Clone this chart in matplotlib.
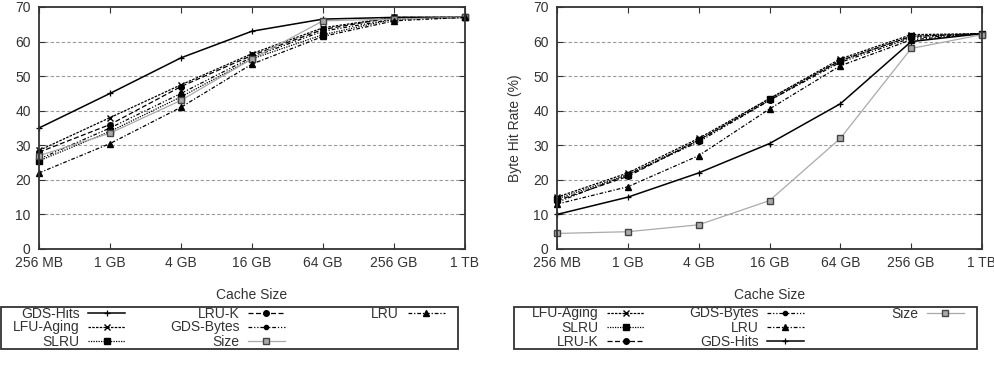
import matplotlib
matplotlib.use("Agg")
import matplotlib.pyplot as plt
from matplotlib.ticker import MultipleLocator
from matplotlib.lines import Line2D
from matplotlib.patches import Rectangle

plt.rcParams['font.family'] = ['Liberation Sans', 'DejaVu Sans']
plt.rcParams['font.size'] = 10

cache_sizes = ["256 MB", "1 GB", "4 GB", "16 GB", "64 GB", "256 GB", "1 TB"]

# Left panel: Hit Rate (%)
hit_gds_hits = [35, 45, 55.3, 63, 66.5, 67, 67]
hit_lfu_aging = [28.5, 38, 47.5, 56.5, 64, 67, 67]
hit_lru_k = [28, 36, 47, 56, 63.5, 67, 67]
hit_gds_bytes = [26, 35, 45, 55.5, 63, 66.5, 67]
hit_slru = [25.5, 34, 44, 55, 62, 66.5, 67]
hit_size = [27, 33.5, 43, 55, 66, 66.5, 67]
hit_lru = [22, 30.5, 41, 53.5, 61.5, 66, 67]

# Right panel: Byte Hit Rate (%)
bhr_lfu_aging = [15, 22, 32, 43.5, 55, 62, 62.3]
bhr_slru = [14.5, 21.5, 31.5, 43.5, 54.5, 61.5, 62.3]
bhr_lru_k = [14, 21, 31.5, 43, 54.5, 61.5, 62.3]
bhr_gds_bytes = [13.5, 21.5, 31, 43, 54, 61, 62.3]
bhr_lru = [13, 18, 27, 40.5, 53, 60.5, 62.3]
bhr_gds_hits = [10, 15, 22, 30.5, 42, 60, 62.3]
bhr_size = [4.5, 5, 7, 14, 32, 58, 62]

styles = {
    "GDS-Hits": dict(color="black", ls="-", marker="+", ms=4.5, lw=1.1, mew=0.9),
    "LFU-Aging": dict(color="black", ls=(0, (2, 1)), marker="x", ms=4, lw=0.9, mew=1.0),
    "LRU-K": dict(color="black", ls=(0, (4, 2)), marker="o", ms=4, lw=0.9),
    "GDS-Bytes": dict(color="black", ls=(0, (3, 1.5, 1, 1.5, 1, 1.5)), marker="o", ms=3, lw=0.9),
    "SLRU": dict(color="black", ls=(0, (1, 1)), marker="s", ms=4, lw=0.9),
    "Size": dict(color="#aaaaaa", ls="-", marker="s", ms=5, lw=0.9, mfc="#aaaaaa", mec="#444444"),
    "LRU": dict(color="black", ls=(0, (3, 1.5, 1, 1.5)), marker="^", ms=4, lw=0.9),
}

fig = plt.figure(figsize=(9.94, 3.66), dpi=100)
W, H = 994, 366
axL = fig.add_axes([39 / W, 1 - 249 / H, (465 - 39) / W, (249 - 7) / H])
axR = fig.add_axes([557 / W, 1 - 249 / H, (982 - 557) / W, (249 - 7) / H])

x = list(range(len(cache_sizes)))

left_series = [("GDS-Hits", hit_gds_hits), ("LFU-Aging", hit_lfu_aging), ("SLRU", hit_slru),
               ("LRU-K", hit_lru_k), ("GDS-Bytes", hit_gds_bytes), ("Size", hit_size),
               ("LRU", hit_lru)]
right_series = [("LFU-Aging", bhr_lfu_aging), ("SLRU", bhr_slru), ("LRU-K", bhr_lru_k),
                ("GDS-Bytes", bhr_gds_bytes), ("LRU", bhr_lru), ("GDS-Hits", bhr_gds_hits),
                ("Size", bhr_size)]

for ax, series in [(axL, left_series), (axR, right_series)]:
    for name, vals in series:
        ax.plot(x, vals, label=name, clip_on=False, **styles[name])
    ax.set_xlim(0, 6)
    ax.set_ylim(0, 70)
    ax.set_xticks(x)
    ax.set_xticklabels(cache_sizes)
    ax.yaxis.set_major_locator(MultipleLocator(10))
    for yv in range(10, 70, 10):
        ax.axhline(yv, color="#999999", ls=(0, (3, 2)), lw=0.8, zorder=0)
    ax.tick_params(direction="in", top=True, right=True, length=4, width=0.8, labelsize=10, colors="#333333")
    ax.tick_params(axis="x", pad=5)
    ax.tick_params(axis="y", pad=6)
    for sp in ax.spines.values():
        sp.set_linewidth(1.3)
        sp.set_color("#333333")
    ax.set_xlabel("Cache Size", fontsize=10, color="#333333", labelpad=13)

axL.set_ylabel("Hit Rate (%)", fontsize=10, color="#333333")
axL.yaxis.set_label_coords((1 - 39) / 426, 0.5)
axR.set_ylabel("Byte Hit Rate (%)", fontsize=10, color="#333333", labelpad=8)


def make_legend(ax, text_left, box_left, box_right):
    h, l = ax.get_legend_handles_labels()
    h = h + [Line2D([], [], color="none"), Line2D([], [], color="none")]
    l = l + ["GDS-Bytes", "GDS-Bytes"]
    leg = ax.legend(h, l, loc="upper left", bbox_to_anchor=(text_left / W, 1 - 306.5 / H),
                    bbox_transform=fig.transFigure, ncol=3, markerfirst=False,
                    frameon=False, fontsize=10, handlelength=2.7, handletextpad=0.6,
                    labelspacing=0.0, borderpad=0.0, borderaxespad=0, columnspacing=3.2)
    texts = leg.get_texts()
    for t in texts:
        t.set_color("#333333")
    for t in texts[-2:]:
        t.set_color("none")
    fig.add_artist(Rectangle((box_left / W, 1 - 349 / H), (box_right - box_left) / W, 42 / H,
                             transform=fig.transFigure, fill=False, edgecolor="#333333", lw=1.3))
    return leg


make_legend(axL, 13, 0.5, 458)
make_legend(axR, 532, 514, 977)

fig.savefig("out.png", dpi=100)
